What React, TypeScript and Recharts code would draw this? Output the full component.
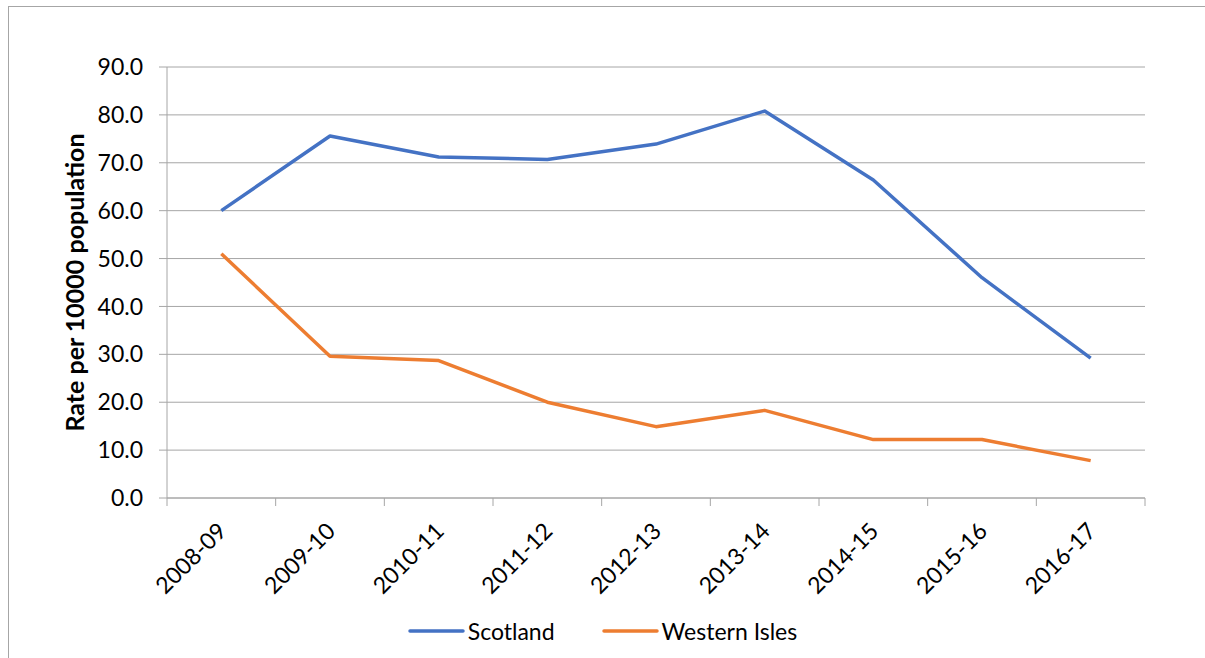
import React from "react";
import { LineChart, Line, XAxis, YAxis, CartesianGrid, Legend } from "recharts";

const categories = ["2008-09", "2009-10", "2010-11", "2011-12", "2012-13", "2013-14", "2014-15", "2015-16", "2016-17"];
const scotland = [60.0, 75.6, 71.2, 70.7, 73.9, 80.8, 66.4, 46.0, 29.2];
const westernIsles = [51.0, 29.6, 28.7, 20.0, 14.9, 18.3, 12.2, 12.2, 7.8];
const yTicks = [0, 10, 20, 30, 40, 50, 60, 70, 80, 90];
const boundaryTicks = categories.map((_, i) => i).concat([categories.length]);

const data = categories.map((c, i) => ({ cat: c, idx: i + 0.5, scotland: scotland[i], western: westernIsles[i] }));

const FONT = "Lato, 'Open Sans', sans-serif";
const GRID = "#a6a6a6";

const XTick = (props: any) => {
  const { x, y, payload, width } = props;
  const i = Math.round(payload.value);
  if (i >= categories.length) return <g />;
  const half = width / categories.length / 2;
  return (
    <g transform={`translate(${x + half + 1},${y + 19})`}>
      <text transform="rotate(-45)" textAnchor="end" fontFamily={FONT} fontSize={23} fill="#000" dy={8}>
        {categories[i]}
      </text>
    </g>
  );
};

const LegendContent = () => (
  <div style={{ display: "flex", justifyContent: "center", alignItems: "center", height: 30, fontFamily: FONT, fontSize: 23, color: "#000" }}>
    <div style={{ display: "flex", alignItems: "center", marginRight: 47 }}>
      <svg width={57} height={10} style={{ marginRight: 3 }}>
        <line x1={2} y1={5} x2={55} y2={5} stroke="#4472C4" strokeWidth={3.5} strokeLinecap="round" />
      </svg>
      <span>Scotland</span>
    </div>
    <div style={{ display: "flex", alignItems: "center" }}>
      <svg width={57} height={10} style={{ marginRight: 3 }}>
        <line x1={2} y1={5} x2={55} y2={5} stroke="#ED7D31" strokeWidth={3.5} strokeLinecap="round" />
      </svg>
      <span>Western Isles</span>
    </div>
  </div>
);

export default function App() {
  return (
    <div style={{ position: "absolute", left: 0, top: 0, width: 1205, height: 658, background: "#fff", overflow: "hidden" }}>
      <div style={{ position: "absolute", left: 8, top: 6, width: 1300, height: 700, borderLeft: "1.5px solid #a6a6a6", borderTop: "1.5px solid #a6a6a6" }} />
      <LineChart width={1205} height={658} data={data} margin={{ top: 67, right: 60, bottom: 12, left: 87 }}>
        <CartesianGrid vertical={false} stroke={GRID} strokeWidth={1} />
        <XAxis
          dataKey="idx"
          type="number"
          domain={[0, categories.length]}
          ticks={boundaryTicks}
          height={118}
          axisLine={{ stroke: GRID }}
          tickLine={{ stroke: GRID }}
          tickSize={8}
          tick={<XTick />}
          interval={0}
        />
        <YAxis
          domain={[0, 90]}
          ticks={yTicks}
          width={80}
          axisLine={{ stroke: GRID }}
          tickLine={{ stroke: GRID }}
          tickSize={8}
          tickMargin={16}
          tickFormatter={(v: number) => v.toFixed(1)}
          tick={{ fontFamily: FONT, fontSize: 23, fill: "#000" }}
          label={{ value: "Rate per 10000 population", angle: -90, position: "insideLeft", dx: -17, style: { fontFamily: FONT, fontSize: 25, fontWeight: "bold", fill: "#000", textAnchor: "middle" } }}
        />
        <Legend verticalAlign="bottom" content={<LegendContent />} wrapperStyle={{ left: 0, width: 1205 }} />
        <Line dataKey="scotland" name="Scotland" stroke="#4472C4" strokeWidth={3.5} dot={false} isAnimationActive={false} strokeLinejoin="round" />
        <Line dataKey="western" name="Western Isles" stroke="#ED7D31" strokeWidth={3.5} dot={false} isAnimationActive={false} strokeLinejoin="round" />
      </LineChart>
    </div>
  );
}
